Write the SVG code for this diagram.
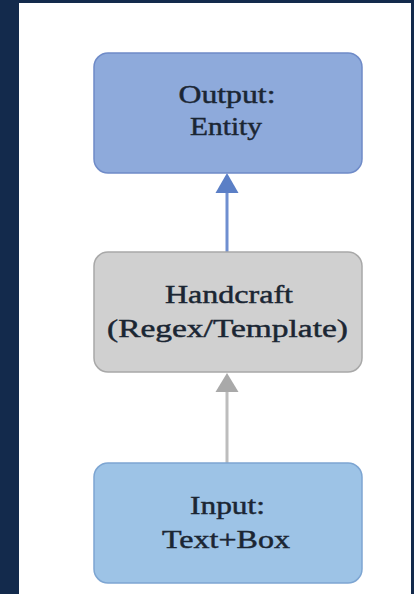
<svg xmlns="http://www.w3.org/2000/svg" width="414" height="594" viewBox="0 0 414 594">
  <style>
    .box { stroke-width: 1.5; }
    .lbl { font-family: "Liberation Serif", "Times New Roman", serif; font-size: 25px; fill: #1b2633; stroke: #1b2633; stroke-width: 0.45; text-anchor: middle; }
  </style>

  <!-- page background and white sheet -->
  <rect x="0" y="0" width="414" height="594" fill="#132a4c"/>
  <rect x="19" y="3" width="392" height="591" fill="#ffffff"/>

  <!-- connectors -->
  <g id="connectors">
    <line x1="227" y1="252" x2="227" y2="190" stroke="#6f8fd0" stroke-width="3"/>
    <path d="M215.5 193 L227 173 L238.5 193 Z" fill="#5b7fc6"/>
    <line x1="227" y1="463" x2="227" y2="389" stroke="#bdbdbd" stroke-width="3"/>
    <path d="M215.5 392 L227 373 L238.5 392 Z" fill="#a9a9a9"/>
  </g>

  <g id="output">
    <rect class="box" x="94" y="53" width="268" height="120" rx="14" fill="#8eaadb" stroke="#6f8bc8"/>
    <text class="lbl" x="227" y="103" textLength="97" lengthAdjust="spacingAndGlyphs">Output:</text>
    <text class="lbl" x="226" y="135" textLength="72" lengthAdjust="spacingAndGlyphs">Entity</text>
  </g>

  <g id="handcraft">
    <rect class="box" x="94" y="252" width="268" height="120" rx="14" fill="#d0d0d0" stroke="#a8a8a8"/>
    <text class="lbl" x="229" y="303" textLength="128" lengthAdjust="spacingAndGlyphs">Handcraft</text>
    <text class="lbl" x="227.5" y="337" textLength="241" lengthAdjust="spacingAndGlyphs">(Regex/Template)</text>
  </g>

  <g id="input">
    <rect class="box" x="94" y="463" width="268" height="120" rx="14" fill="#9dc3e6" stroke="#7da5d2"/>
    <text class="lbl" x="227.5" y="514" textLength="75" lengthAdjust="spacingAndGlyphs">Input:</text>
    <text class="lbl" x="226" y="548" textLength="128" lengthAdjust="spacingAndGlyphs">Text+Box</text>
  </g>
</svg>
